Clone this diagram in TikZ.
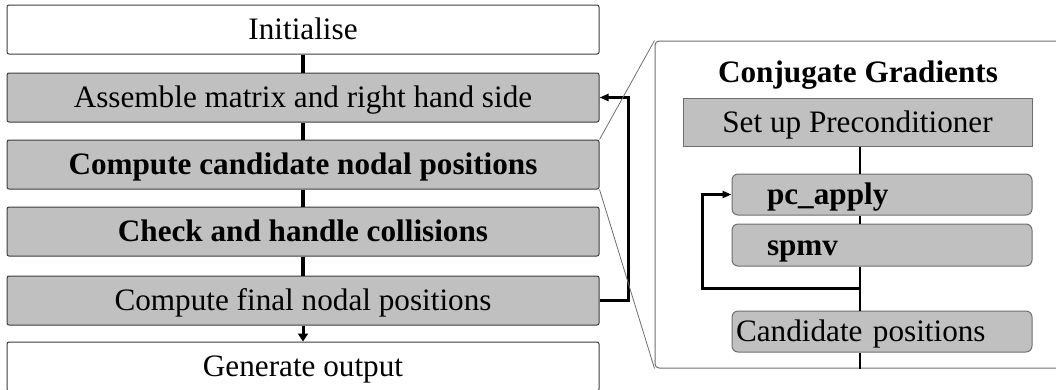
\documentclass[tikz,border=0pt]{standalone}
\usepackage{fontspec}
\setmainfont{Liberation Serif}
\usetikzlibrary{arrows.meta}
\definecolor{stagegray}{RGB}{192,192,192}
\definecolor{edgegray}{RGB}{60,60,60}
\definecolor{framegray}{RGB}{110,110,110}

\begin{document}
\begin{tikzpicture}[x=1pt,y=-1pt,
  txt/.style={font=\fontsize{31.2}{36}\selectfont, text height=20.7pt, text depth=0pt},
  stage/.style={txt, draw=edgegray, line width=1pt, rounded corners=2pt,
    minimum width=592pt, minimum height=49pt, inner sep=0pt},
  greystage/.style={stage, fill=stagegray},
  whitestage/.style={stage, fill=white},
  cgframe/.style={draw=framegray, line width=1pt, rounded corners=4pt,
    minimum width=415pt, minimum height=327pt, inner sep=0pt},
  cgbox/.style={txt, draw=framegray, line width=1pt, fill=stagegray, inner ysep=0pt},
  roundbox/.style={cgbox, rounded corners=6pt, minimum width=300pt, align=left},
  flow/.style={line width=4.5pt},
  feedback/.style={line width=3pt, -{Triangle[length=9pt,width=7pt]}},
  spineline/.style={line width=2pt},
  zoomline/.style={draw=framegray, line width=0.8pt}
]
\useasboundingbox (0,0) rectangle (1056,389);

% main sequence of stages
\node[whitestage] (init) at (303,29.5) {Initialise};
\node[greystage]  (asm)  at (303,97.5) {Assemble matrix and right hand side};
\node[greystage]  (cnp)  at (303,164.5) {\bfseries Compute candidate nodal positions};
\node[greystage]  (chk)  at (303,231.5) {\bfseries Check and handle collisions};
\node[greystage]  (fin)  at (303,300.5) {Compute final nodal positions};
\node[whitestage] (out)  at (303,366.5) {Generate output};

\draw[flow] (init) -- (asm);
\draw[flow] (asm) -- (cnp);
\draw[flow] (cnp) -- (chk);
\draw[flow] (chk) -- (fin);
\draw[line width=3pt, -{Triangle[length=8pt,width=10pt]}] (fin) -- (out);

% outer iteration back to the assembly stage
\draw[feedback] (fin.east) -- ++(29,0) |- (asm.east);

% expanded view of the candidate position solve
\node[cgframe] (cg) at (862.5,204.5) {};
\draw[zoomline] (cnp.north east) -- (cg.north west);
\draw[zoomline] (cnp.south east) -- (cg.south west);

\node[txt, inner sep=0pt] (cgtitle) at (858,72) {\bfseries Conjugate Gradients};

\coordinate (spine) at (860,0);
\node[cgbox, minimum width=349pt, minimum height=48pt] (setup) at (857.5,122) {Set up Preconditioner};
\node[roundbox, minimum height=41pt, inner xsep=35pt, text width=230pt] (pca) at (882,194.5) {\bfseries pc\_apply};
\node[roundbox, minimum height=42pt, inner xsep=35pt, text width=230pt] (spmv) at (882,245) {\bfseries spmv};
\node[roundbox, minimum height=41pt, inner xsep=4pt, text width=292pt] (cand) at (882,331.5) {Candidate positions};

\draw[spineline] (setup.south -| spine) -- (pca.north -| spine);
\draw[spineline] (pca.south -| spine) -- (spmv.north -| spine);
\draw[spineline] (spmv.south -| spine) -- (cand.north -| spine);
\draw[spineline] (cand.south -| spine) -- (cg.south -| spine);

% inner iteration of the solver
\coordinate (jn) at (860,288);
\draw[feedback] (jn) -| ([xshift=-29pt]pca.west) -- (pca.west);
\end{tikzpicture}
\end{document}
